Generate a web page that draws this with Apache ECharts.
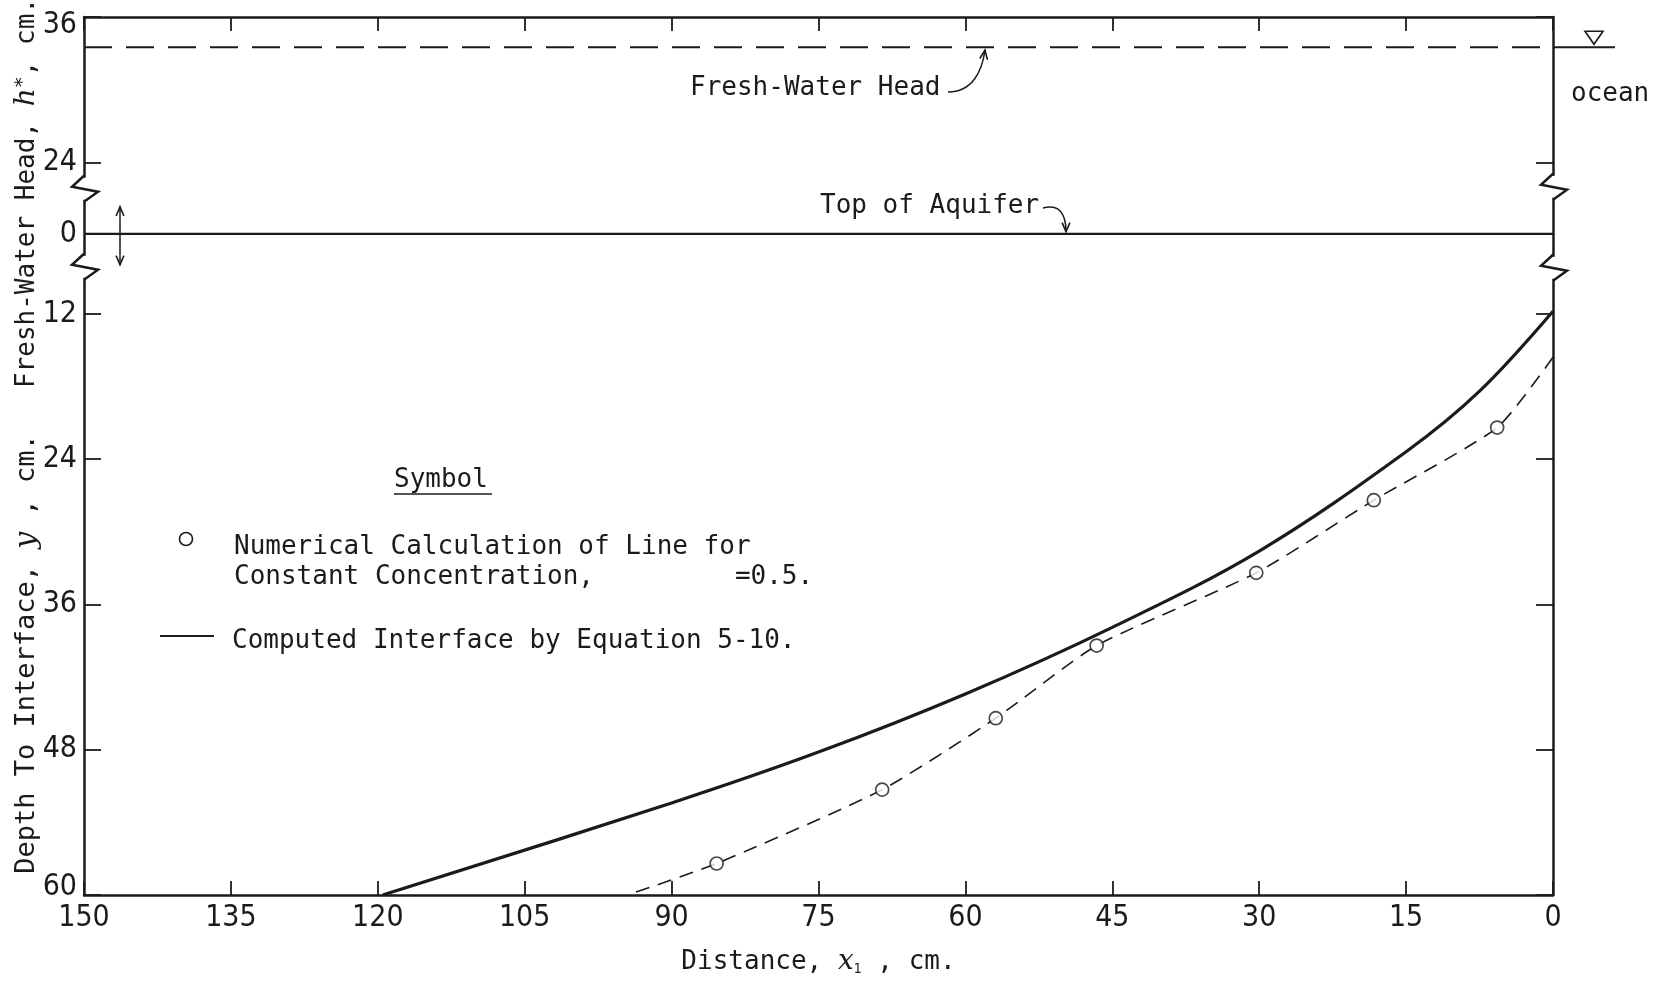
<!DOCTYPE html>
<html>
<head>
<meta charset="utf-8">
<title>Fresh-water head and interface</title>
<script src="https://cdn.jsdelivr.net/npm/echarts@6.0.0/dist/echarts.min.js"></script>
<style>
  html, body { margin: 0; padding: 0; background: #fff; }
  #chart { width: 1655px; height: 981px; }
</style>
</head>
<body>
<div id="chart"></div>
<script>
// distance from the coast, cm (axis runs 150 -> 0)
var distanceTicks = [150, 135, 120, 105, 90, 75, 60, 45, 30, 15, 0];
// upper part of the y axis: fresh-water head, lower part: depth to interface
var headTicks = [36, 24];
var depthTicks = [0, 12, 24, 36, 48, 60];

var freshWaterHead = 33.5; // h*, cm

// computed interface by equation 5-10
var interfaceDistance = [119.5, 90, 75, 60, 45, 30, 15, 7.5, 0];
var interfaceDepth = [60, 52.4, 48.2, 43.4, 37.9, 31.6, 23.4, 18.4, 11.8];

// numerical calculation of line for constant concentration = 0.5
var numericalDistance = [5.7, 18.3, 30.3, 46.6, 56.9, 68.5, 85.4];
var numericalDepth = [21.4, 27.4, 33.4, 39.4, 45.4, 51.3, 57.4];

// where the dashed curve through the numerical points meets the frame
var dashedEndDistance = [0, 94.5];
var dashedEndDepth = [15.6, 60];

// broken y axis: head h sits at HEAD_SHIFT - h, depth d at d (top of aquifer squeezed)
var HEAD_SHIFT = 23.5;
var AQUIFER_TOP = 5.4;
function headY(h) { return HEAD_SHIFT - h; }
function depthY(d) { return d === 0 ? AQUIFER_TOP : d; }

var yTickValues = headTicks.map(headY).concat(depthTicks.map(depthY));
var yTickText = headTicks.concat(depthTicks);

var INK = "#1b1b1b";
var MONO = "'DejaVu Sans Mono', monospace";
var NUM = "'DejaVu Sans Condensed', 'DejaVu Sans', sans-serif";

var chart = echarts.init(document.getElementById("chart"));

function pairs(xs, ys) {
  return xs.map(function (x, i) { return [x, ys[i]]; });
}

var interfaceData = pairs(interfaceDistance, interfaceDepth.map(depthY));
var numericalData = pairs(numericalDistance, numericalDepth.map(depthY));
var dashedData = [[dashedEndDistance[0], depthY(dashedEndDepth[0])]]
  .concat(numericalData)
  .concat([[dashedEndDistance[1], depthY(dashedEndDepth[1])]]);

var xAxisBase = {
  type: "value",
  min: distanceTicks[distanceTicks.length - 1],
  max: distanceTicks[0],
  interval: 15,
  inverse: true,
  axisLine: { show: true, onZero: false, lineStyle: { color: INK, width: 2.5 } },
  axisTick: { show: true, inside: true, length: 14, lineStyle: { color: INK, width: 1.8 } },
  splitLine: { show: false }
};

var yAxisBase = {
  type: "value",
  inverse: true,
  min: headY(headTicks[0]),
  max: depthTicks[depthTicks.length - 1],
  axisLine: { show: true, onZero: false, lineStyle: { color: INK, width: 2.5 } },
  axisTick: {
    show: true, inside: true, length: 17,
    customValues: yTickValues,
    lineStyle: { color: INK, width: 1.8 }
  },
  splitLine: { show: false }
};

var option = {
  animation: false,
  backgroundColor: "#fff",
  grid: { left: 84, right: 102, top: 17, bottom: 86, outerBoundsMode: "none", containLabel: false },
  xAxis: [
    Object.assign({}, xAxisBase, {
      position: "bottom",
      axisLabel: { color: INK, fontFamily: NUM, fontSize: 30, margin: 8 },
      name: "Distance, {x|x}{s|1} , cm.",
      nameLocation: "middle",
      nameGap: 53,
      nameTextStyle: {
        color: INK, fontFamily: MONO, fontSize: 26,
        rich: {
          x: { fontFamily: "'DejaVu Serif', serif", fontStyle: "italic", fontSize: 28, color: INK },
          s: { fontFamily: NUM, fontSize: 14, verticalAlign: "bottom", color: INK }
        }
      }
    }),
    Object.assign({}, xAxisBase, { position: "top", axisLabel: { show: false } })
  ],
  yAxis: [
    Object.assign({}, yAxisBase, {
      position: "left",
      axisLabel: {
        color: INK, fontFamily: NUM, fontSize: 30, margin: 7,
        customValues: yTickValues,
        formatter: function (val) {
          for (var i = 0; i < yTickValues.length; i++) {
            if (Math.abs(yTickValues[i] - val) < 1e-6) {
              if (i === 0) return "{first|" + yTickText[i] + "}";
              if (i === yTickValues.length - 1) return "{last|" + yTickText[i] + "}";
              return String(yTickText[i]);
            }
          }
          return "";
        },
        rich: {
          first: { fontFamily: NUM, fontSize: 30, color: INK, padding: [16, 0, 0, 0] },
          last: { fontFamily: NUM, fontSize: 30, color: INK, padding: [0, 0, 16, 0] }
        }
      }
    }),
    Object.assign({}, yAxisBase, { position: "right", axisLabel: { show: false } })
  ],
  series: [
    {
      name: "Fresh-Water Head",
      type: "line",
      showSymbol: false,
      data: [[distanceTicks[0], headY(freshWaterHead)], [0, headY(freshWaterHead)]],
      lineStyle: { color: INK, width: 2, type: [28, 14] }
    },
    {
      name: "Top of Aquifer",
      type: "line",
      showSymbol: false,
      data: [[distanceTicks[0], depthY(0)], [0, depthY(0)]],
      lineStyle: { color: INK, width: 2.2 }
    },
    {
      name: "Computed Interface by Equation 5-10.",
      type: "line",
      showSymbol: false,
      smooth: 0.35,
      data: interfaceData,
      lineStyle: { color: INK, width: 3.2 }
    },
    {
      name: "dashed",
      type: "line",
      showSymbol: false,
      smooth: 0.2,
      data: dashedData,
      lineStyle: { color: INK, width: 1.6, type: [14, 9] }
    },
    {
      name: "Numerical Calculation",
      type: "scatter",
      symbol: "circle",
      symbolSize: 13,
      z: 5,
      data: numericalData,
      itemStyle: { color: "#fff", borderColor: INK, borderWidth: 1.7 }
    }
  ]
};

chart.setOption(option);

// decorations: axis breaks, water-level mark, annotations, legend
function pt(x, v) { return chart.convertToPixel({ gridIndex: 0 }, [x, v]); }
var aqL = pt(distanceTicks[0], depthY(0));
var aqR = pt(0, depthY(0));
var wl = pt(0, headY(freshWaterHead));

function zigzag(cx, cy) {
  return [
    { type: "rect", z: 50, shape: { x: cx - 3, y: cy - 11, width: 6, height: 22 }, style: { fill: "#fff" } },
    {
      type: "polyline", z: 51,
      shape: { points: [[cx, cy - 13], [cx - 12, cy - 2], [cx + 14, cy + 3], [cx, cy + 13]] },
      style: { stroke: INK, lineWidth: 2.5, fill: null }
    }
  ];
}

function arrowHead(x, y, angle) {
  var a = 10, w = 0.4;
  return {
    type: "polyline", z: 52,
    shape: {
      points: [
        [x - a * Math.cos(angle - w), y - a * Math.sin(angle - w)],
        [x, y],
        [x - a * Math.cos(angle + w), y - a * Math.sin(angle + w)]
      ]
    },
    style: { stroke: INK, lineWidth: 1.6, fill: null }
  };
}

var g = [];
g = g.concat(zigzag(aqL[0], aqL[1] - 45), zigzag(aqL[0], aqL[1] + 33));
g = g.concat(zigzag(aqR[0], aqR[1] - 47), zigzag(aqR[0], aqR[1] + 34));

// double arrow near the left axis
var dax = aqL[0] + 36;
g.push({ type: "line", z: 52, shape: { x1: dax, y1: aqL[1] - 27, x2: dax, y2: aqL[1] + 31 }, style: { stroke: INK, lineWidth: 1.5 } });
g.push(arrowHead(dax, aqL[1] - 27, -Math.PI / 2));
g.push(arrowHead(dax, aqL[1] + 31, Math.PI / 2));

// water level outside the frame with the triangle mark
g.push({ type: "line", z: 52, shape: { x1: wl[0], y1: wl[1], x2: wl[0] + 62, y2: wl[1] }, style: { stroke: INK, lineWidth: 2 } });
g.push({
  type: "polygon", z: 52,
  shape: { points: [[wl[0] + 32, wl[1] - 16], [wl[0] + 50, wl[1] - 16], [wl[0] + 41, wl[1] - 3]] },
  style: { stroke: INK, lineWidth: 1.6, fill: "#fff" }
});
g.push({
  type: "text", z: 52, x: wl[0] + 18, y: wl[1] + 47,
  style: { text: "ocean", fill: INK, font: "26px " + MONO, verticalAlign: "middle" }
});

// annotations
g.push({ type: "text", z: 52, x: 690, y: 88, style: { text: "Fresh-Water Head", fill: INK, font: "26px " + MONO, verticalAlign: "middle" } });
g.push({
  type: "bezierCurve", z: 52,
  shape: { x1: 948, y1: 92, cpx1: 972, cpy1: 92, cpx2: 982, cpy2: 72, x2: 985, y2: 50 },
  style: { stroke: INK, lineWidth: 1.5, fill: null }
});
g.push(arrowHead(985, 50, -Math.PI / 2 + 0.15));

g.push({ type: "text", z: 52, x: 820, y: 206, style: { text: "Top of Aquifer", fill: INK, font: "26px " + MONO, verticalAlign: "middle" } });
g.push({
  type: "bezierCurve", z: 52,
  shape: { x1: 1043, y1: 208, cpx1: 1058, cpy1: 204, cpx2: 1066, cpy2: 212, x2: 1066, y2: aqL[1] - 2 },
  style: { stroke: INK, lineWidth: 1.5, fill: null }
});
g.push(arrowHead(1066, aqL[1] - 2, Math.PI / 2));

// rotated y axis names
g.push({
  type: "text", z: 52, x: 27, y: 193, rotation: Math.PI / 2,
  style: {
    text: "Fresh-Water Head, {h|h}{s|*}, cm.",
    fill: INK, font: "26px " + MONO, align: "center", verticalAlign: "middle",
    rich: {
      h: { fontFamily: "'DejaVu Serif', serif", fontStyle: "italic", fontSize: 28, fill: INK },
      s: { fontFamily: MONO, fontSize: 20, verticalAlign: "top", fill: INK }
    }
  }
});
g.push({
  type: "text", z: 52, x: 27, y: 654, rotation: Math.PI / 2,
  style: {
    text: "Depth To Interface, {y|y} , cm.",
    fill: INK, font: "27px " + MONO, align: "center", verticalAlign: "middle",
    rich: {
      y: { fontFamily: "'DejaVu Serif', serif", fontStyle: "italic", fontSize: 30, fill: INK }
    }
  }
});

// legend
g.push({ type: "text", z: 52, x: 394, y: 480, style: { text: "Symbol", fill: INK, font: "26px " + MONO, verticalAlign: "middle" } });
g.push({ type: "line", z: 52, shape: { x1: 394, y1: 494, x2: 492, y2: 494 }, style: { stroke: INK, lineWidth: 1.5 } });
g.push({ type: "circle", z: 52, shape: { cx: 186, cy: 539, r: 6.5 }, style: { stroke: INK, lineWidth: 1.6, fill: "#fff" } });
g.push({ type: "text", z: 52, x: 234, y: 547, style: { text: "Numerical Calculation of Line for", fill: INK, font: "26px " + MONO, verticalAlign: "middle" } });
g.push({ type: "text", z: 52, x: 234, y: 577, style: { text: "Constant Concentration,         =0.5.", fill: INK, font: "26px " + MONO, verticalAlign: "middle" } });
g.push({ type: "line", z: 52, shape: { x1: 160, y1: 636, x2: 214, y2: 636 }, style: { stroke: INK, lineWidth: 2 } });
g.push({ type: "text", z: 52, x: 232, y: 641, style: { text: "Computed Interface by Equation 5-10.", fill: INK, font: "26px " + MONO, verticalAlign: "middle" } });

chart.setOption({ graphic: g });
</script>
</body>
</html>
